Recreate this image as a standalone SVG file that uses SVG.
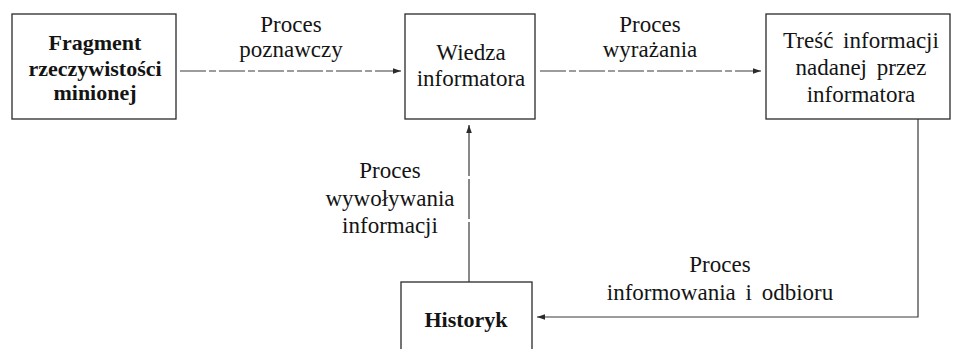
<svg xmlns="http://www.w3.org/2000/svg" width="955" height="349" viewBox="0 0 955 349">
<style>
.box{fill:none;stroke:#2a2a2a;stroke-width:1.3}
.t{font-family:"Liberation Serif","Times New Roman",serif;font-size:23px;fill:#141414;text-anchor:middle}
.b{font-weight:bold;font-size:22px}
.c{fill:none;stroke:#3a3a3a;stroke-width:1.2}
.d{stroke-dasharray:26 3 7 3}
</style>
<defs>
<marker id="ah" viewBox="0 0 10 10" refX="10" refY="5" markerWidth="8" markerHeight="8" markerUnits="userSpaceOnUse" orient="auto">
<path d="M0,1.5 L10,5 L0,8.5 z" fill="#2a2a2a"/>
</marker>
</defs>
<rect width="955" height="349" fill="#fff"/>
<g id="connectors">
<line class="c d" x1="180" y1="71" x2="401" y2="71" marker-end="url(#ah)"/>
<line class="c d" x1="540" y1="71" x2="761" y2="71" marker-end="url(#ah)"/>
<polyline class="c" points="918,119 918,317 537,317" marker-end="url(#ah)"/>
<line class="c" x1="469" y1="282" x2="469" y2="125" stroke-dasharray="60 3 40 3" marker-end="url(#ah)"/>
</g>
<g id="labels">
<text class="t" x="291" y="32">Proces</text>
<text class="t" x="291" y="57">poznawczy</text>
<text class="t" x="650" y="32">Proces</text>
<text class="t" x="650" y="57">wyrażania</text>
<text class="t" x="390" y="178">Proces</text>
<text class="t" x="390" y="206">wywoływania</text>
<text class="t" x="390" y="233">informacji</text>
<text class="t" x="720" y="272">Proces</text>
<text class="t" x="720" y="300" word-spacing="4">informowania i odbioru</text>
</g>
<g id="n1">
<rect class="box" x="12" y="14" width="164" height="105"/>
<text class="t b" x="95" y="50">Fragment</text>
<text class="t b" x="95" y="76">rzeczywistości</text>
<text class="t b" x="95" y="100">minionej</text>
</g>
<g id="n2">
<rect class="box" x="405" y="14" width="130" height="105"/>
<text class="t" x="471" y="60">Wiedza</text>
<text class="t" x="471" y="86">informatora</text>
</g>
<g id="n3">
<rect class="box" x="766" y="14" width="184" height="105"/>
<text class="t" x="861" y="48" word-spacing="4">Treść informacji</text>
<text class="t" x="861" y="75" word-spacing="4">nadanej przez</text>
<text class="t" x="861" y="102">informatora</text>
</g>
<g id="n4">
<rect class="box" x="401" y="282" width="131" height="80"/>
<text class="t b" x="466" y="327">Historyk</text>
</g>
</svg>
